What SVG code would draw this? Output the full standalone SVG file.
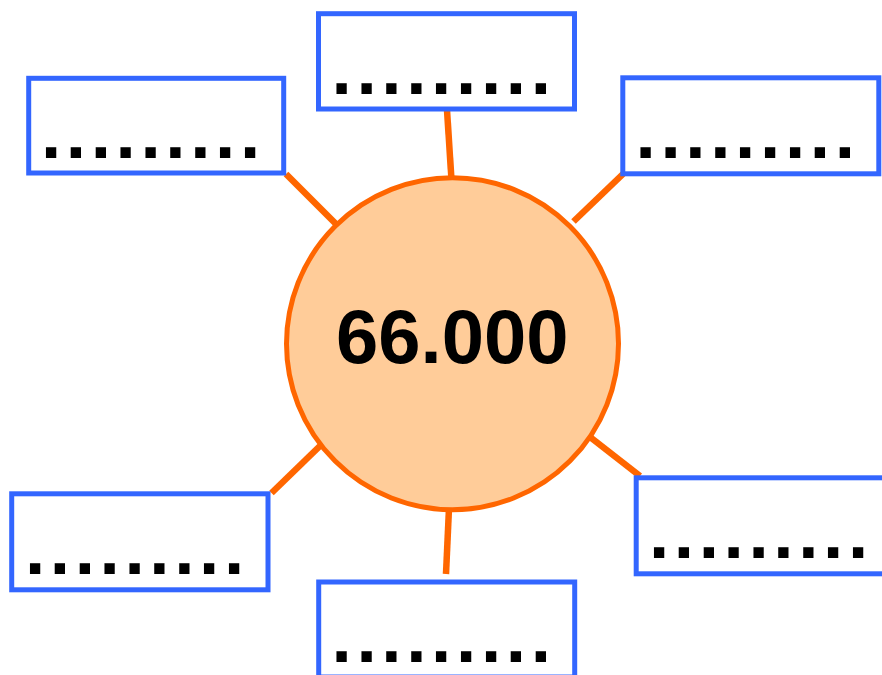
<svg xmlns="http://www.w3.org/2000/svg" width="882" height="675" viewBox="0 0 882 675">
<style>
.box{fill:#FFFFFF;stroke:#3366FF;stroke-width:5}
.dots{font-family:"Liberation Sans",Arial,sans-serif;font-weight:bold;font-size:73px;letter-spacing:4.6px;fill:#000000}
.conn{stroke:#FF6600;stroke-width:6.5;fill:none}
</style>
<rect width="882" height="675" fill="#FFFFFF"/>
<g id="connectors">
<line class="conn" x1="447" y1="110" x2="451.5" y2="180"/>
<line class="conn" x1="449" y1="508" x2="446" y2="574"/>
<line class="conn" x1="286" y1="174" x2="336" y2="224"/>
<line class="conn" x1="623" y1="174" x2="573.5" y2="221.5"/>
<line class="conn" x1="271.5" y1="493" x2="322" y2="444"/>
<line class="conn" x1="590" y1="437" x2="640" y2="476"/>
</g>
<g id="center">
<circle cx="452.5" cy="343.7" r="166" fill="#FFCC99" stroke="#FF6600" stroke-width="5"/>
<text x="452.3" y="362.7" text-anchor="middle" font-family="'Liberation Sans',Arial,sans-serif" font-weight="bold" font-size="76" fill="#000000">66.000</text>
</g>
<g id="box-top">
<rect class="box" x="318.5" y="13.7" width="256" height="95.3"/>
<text class="dots" x="331.6" y="94.3">.........</text>
</g>
<g id="box-top-left">
<rect class="box" x="28.7" y="78.3" width="255" height="94.7"/>
<text class="dots" x="40.9" y="158.3">.........</text>
</g>
<g id="box-top-right">
<rect class="box" x="622.8" y="77.8" width="256" height="96"/>
<text class="dots" x="635.6" y="158.3">.........</text>
</g>
<g id="box-bottom-left">
<rect class="box" x="11.7" y="493.8" width="256.3" height="96"/>
<text class="dots" x="24.9" y="574.3">.........</text>
</g>
<g id="box-bottom">
<rect class="box" x="318.7" y="582" width="256" height="95"/>
<text class="dots" x="331.6" y="662.3">.........</text>
</g>
<g id="box-bottom-right">
<rect class="box" x="636.2" y="477.8" width="256" height="96"/>
<text class="dots" x="648.9" y="558.3">.........</text>
</g>
</svg>
